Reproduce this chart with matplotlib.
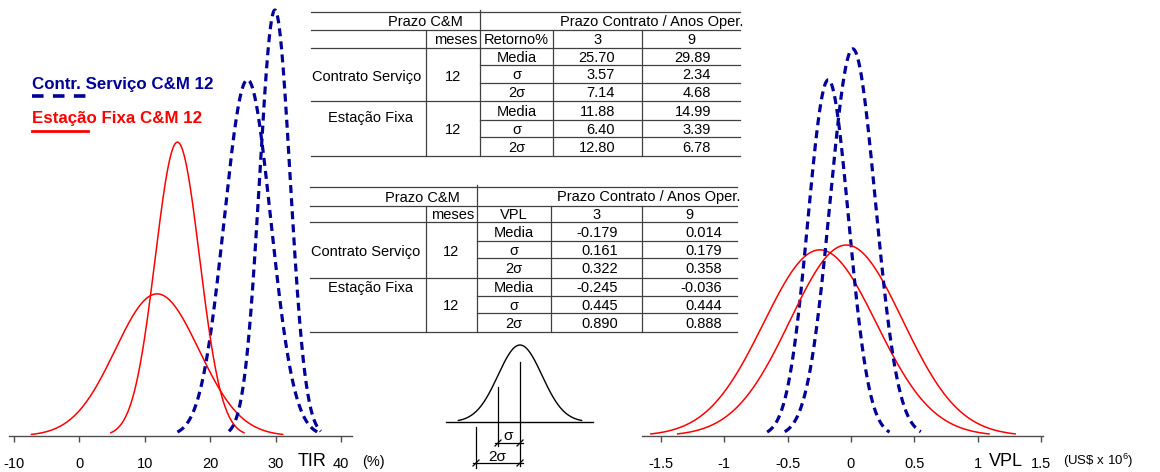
import numpy as np
import matplotlib
matplotlib.use('Agg')
import matplotlib.pyplot as plt

plt.rcParams['font.family'] = ['Liberation Sans', 'DejaVu Sans']
plt.rcParams['mathtext.fontset'] = 'custom'
plt.rcParams['mathtext.rm'] = 'Liberation Sans'

# valores das tabelas (prazo contrato 3 e 9 anos)
prazos = ['3', '9']
tir_media_cs = [25.70, 29.89]
tir_sigma_cs = [3.57, 2.34]
tir_2sigma_cs = [7.14, 4.68]
tir_media_ef = [11.88, 14.99]
tir_sigma_ef = [6.40, 3.39]
tir_2sigma_ef = [12.80, 6.78]

vpl_media_cs = [-0.179, 0.014]
vpl_sigma_cs = [0.161, 0.179]
vpl_2sigma_cs = [0.322, 0.358]
vpl_media_ef = [-0.245, -0.036]
vpl_sigma_ef = [0.445, 0.444]
vpl_2sigma_ef = [0.890, 0.888]

# altura relativa dos picos das curvas
tir_pico_cs = [0.817, 0.977]
tir_pico_ef = [0.326, 0.674]
vpl_pico_cs = [0.817, 0.888]
vpl_pico_ef = [0.427, 0.438]

tir_ticks = [-10, 0, 10, 20, 30, 40]
vpl_ticks = [-1.5, -1, -0.5, 0, 0.5, 1, 1.5]
vpl_ticklabels = ['-1.5', '-1', '-0.5', '0', '0.5', '1', '1.5']

AZUL = '#000099'
VERM = '#ff0000'
W, H = 1160, 472
FS = 10.5

fig = plt.figure(figsize=(W / 100, H / 100), dpi=100)


def eixo(x0, x1, xlim):
    ax = fig.add_axes([x0 / W, (H - 436) / H, (x1 - x0) / W, 436 / H])
    ax.set_xlim(*xlim)
    ax.set_ylim(0, 1)
    ax.patch.set_visible(False)
    for s in ['top', 'left', 'right']:
        ax.spines[s].set_visible(False)
    ax.spines['bottom'].set_color('0.3')
    ax.spines['bottom'].set_linewidth(1.0)
    ax.set_yticks([])
    ax.tick_params(axis='x', direction='out', length=4.5, width=1.0,
                   color='0.3', pad=10.5, labelsize=FS)
    return ax


def curva(ax, media, sigma, pico, cor, tracejado):
    x = np.linspace(media - 3 * sigma, media + 3 * sigma, 300)
    y = pico * np.exp(-0.5 * ((x - media) / sigma) ** 2)
    if tracejado:
        ln, = ax.plot(x, y, color=cor, lw=2.3)
        ln.set_dashes((2.5, 1.6))
    else:
        ax.plot(x, y, color=cor, lw=1.1)


# TIR
ax1 = eixo(9, 352, (-10.76, 41.68))
ax1.set_xticks(tir_ticks)
ax1.set_xticklabels([str(t) for t in tir_ticks])
for i in range(2):
    curva(ax1, tir_media_ef[i], tir_sigma_ef[i], tir_pico_ef[i], VERM, False)
    curva(ax1, tir_media_cs[i], tir_sigma_cs[i], tir_pico_cs[i], AZUL, True)

# VPL
ax2 = eixo(642, 1043, (-1.65, 1.516))
ax2.set_xticks(vpl_ticks)
ax2.set_xticklabels(vpl_ticklabels)
for i in range(2):
    curva(ax2, vpl_media_ef[i], vpl_sigma_ef[i], vpl_pico_ef[i], VERM, False)
    curva(ax2, vpl_media_cs[i], vpl_sigma_cs[i], vpl_pico_cs[i], AZUL, True)

# camada em pixels para tabelas, legenda e esquema
ov = fig.add_axes([0, 0, 1, 1])
ov.set_xlim(0, W)
ov.set_ylim(H, 0)
ov.axis('off')

ov.text(312, 462, 'TIR', fontsize=13, ha='center', va='center')
ov.text(373, 462, '(%)', fontsize=FS, ha='center', va='center')
ov.text(1006, 462, 'VPL', fontsize=13, ha='center', va='center')
ov.text(1098, 461, r'(US\$ x $\mathregular{10^{6}}$)', fontsize=9.5,
        ha='center', va='center')

# legenda
ov.text(32, 89.3, 'Contr. Serviço C&M 12', color=AZUL, fontsize=12.2,
        fontweight='bold', va='baseline')
lg, = ov.plot([32, 88], [96, 96], color=AZUL, lw=2.6)
lg.set_dashes((3.2, 2.6))
ov.text(32, 123.3, 'Estação Fixa C&M 12', color=VERM, fontsize=12.2,
        fontweight='bold', va='baseline')
ov.plot([32, 88], [130.5, 130.5], color=VERM, lw=2.0)


def tabela(xs, ys, titulo, medias, sigmas, dsigmas, fmt, xr, y_ef, y_ef12):
    L, c1, c2, c3, c4, R = xs
    lc = '0.25'
    kw = dict(fontsize=FS, va='center')
    for i, y in enumerate(ys):
        x0 = c2 if i in (3, 4, 6, 7) else L
        ov.plot([x0, R], [y, y], color=lc, lw=0.9)
    ov.plot([c2, c2], [ys[0] - 2, ys[8]], color=lc, lw=0.9)
    for c in (c1, c3, c4):
        ov.plot([c, c], [ys[1], ys[8]], color=lc, lw=0.9)

    yh = (ys[0] + ys[1]) / 2 + 1
    ov.text(c2 - 17, yh, 'Prazo C&M', ha='right', **kw)
    ov.text(R + 3, yh, 'Prazo Contrato / Anos Oper.', ha='right', **kw)
    yh2 = (ys[1] + ys[2]) / 2 + 1
    ov.text(c2 - 3, yh2, 'meses', ha='right', **kw)
    ov.text((c2 + c3) / 2, yh2, titulo, ha='center', **kw)
    ov.text((c3 + c4) / 2, yh2, prazos[0], ha='center', **kw)
    ov.text((c4 + R) / 2, yh2, prazos[1], ha='center', **kw)

    yg = (ys[2] + ys[5]) / 2 + 2
    ov.text((L + c1) / 2 - 2, yg, 'Contrato Serviço', ha='center', **kw)
    ov.text((c1 + c2) / 2, yg, '12', ha='center', **kw)
    ov.text((L + c1) / 2 + 2, y_ef, 'Estação Fixa', ha='center', **kw)
    ov.text((c1 + c2) / 2, y_ef12, '12', ha='center', **kw)

    limites = [ys[2], ys[3], ys[4], ys[5], ys[6], ys[7], ys[8]]
    nomes = ['Media', 'σ', '2σ']
    for r in range(6):
        yc = (limites[r] + limites[r + 1]) / 2 + 1
        ov.text((c2 + c3) / 2, yc, nomes[r % 3], ha='center', **kw)
        for j in range(2):
            v = [medias[r // 3], sigmas[r // 3], dsigmas[r // 3]][r % 3][j]
            ov.text(xr[j], yc, fmt.format(v), ha='right', **kw)


tabela([311, 426, 480, 553, 642, 740],
       [12, 30, 48.3, 65.3, 82.7, 101, 120, 137, 156],
       'Retorno%',
       [tir_media_cs, tir_media_ef], [tir_sigma_cs, tir_sigma_ef],
       [tir_2sigma_cs, tir_2sigma_ef], '{:.2f}', [615, 711], 118, 130)

tabela([310, 426, 477, 551, 642, 737],
       [187, 206, 222.3, 241, 258.3, 277.7, 295.7, 313.3, 331.7],
       'VPL',
       [vpl_media_cs, vpl_media_ef], [vpl_sigma_cs, vpl_sigma_ef],
       [vpl_2sigma_cs, vpl_2sigma_ef], '{:.3f}', [618, 722], 288, 306)

# esquema da curva normal com sigma e 2 sigma
cx, s, base, h = 520, 22, 422, 77
z = np.linspace(-2.8, 2.8, 200)
ov.plot(cx + s * z, base - h * np.exp(-0.5 * z ** 2), color='k', lw=1.0)
ov.plot([446, 593], [base, base], color='k', lw=1.0)
ov.plot([cx, cx], [362, 466], color='k', lw=0.9)
ov.plot([cx - s, cx - s], [387, 446], color='k', lw=0.9)
ov.plot([cx - 2 * s, cx - 2 * s], [427, 468], color='k', lw=0.9)
for xa, xb, yy in [(cx - s, cx, 443), (cx - 2 * s, cx, 463)]:
    ov.plot([xa - 3, xb + 3], [yy, yy], color='k', lw=0.9)
    for xx in (xa, xb):
        ov.plot([xx - 3, xx + 3], [yy + 3, yy - 3], color='k', lw=0.9)
ov.text(508, 440, 'σ', fontsize=11, ha='center', va='baseline')
ov.text(497, 461, '2σ', fontsize=11, ha='center', va='baseline')

fig.savefig('out.png', dpi=100)
